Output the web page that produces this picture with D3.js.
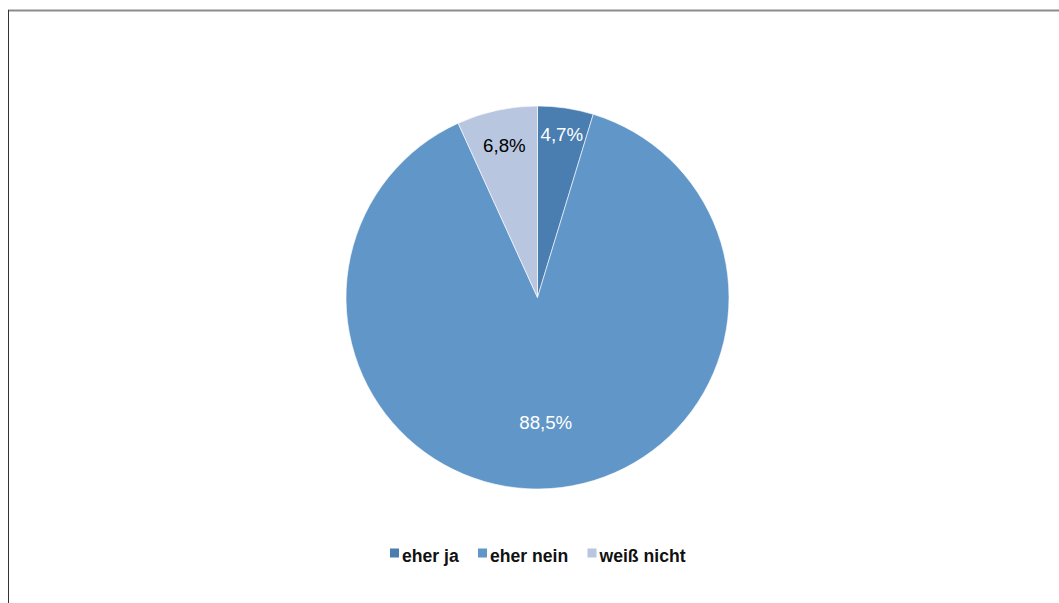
<!DOCTYPE html>
<html><head><meta charset="utf-8">
<script src="https://cdn.jsdelivr.net/npm/d3@7"></script>
<style>body{margin:0;background:#fff}svg{display:block}</style>
</head><body>
<svg id="c" width="1059" height="603"></svg>
<script>
const categories = ["eher ja", "eher nein", "weiß nicht"];
const values = [4.7, 88.5, 6.8];
const labels = ["4,7%", "88,5%", "6,8%"];
const colors = ["#4A7EB1", "#6096C8", "#B8C7DF"];
const labelColors = ["#ffffff", "#ffffff", "#000000"];
const labelRadiusFrac = [0.862, 0.653, 0.815];

const svg = d3.select("#c");
// frame
svg.append("line").attr("x1", 8).attr("x2", 1059).attr("y1", 10.5).attr("y2", 10.5)
  .attr("stroke", "#8c8c8c").attr("stroke-width", 2);
svg.append("line").attr("x1", 8.5).attr("x2", 8.5).attr("y1", 10).attr("y2", 603)
  .attr("stroke", "#333").attr("stroke-width", 1);

const cx = 537.5, cy = 297.5, r = 191.5;
const pie = d3.pie().sort(null).value(d => d)(values);
const arc = d3.arc().innerRadius(0).outerRadius(r);
const g = svg.append("g").attr("transform", `translate(${cx},${cy})`);
g.selectAll("path").data(pie).join("path")
  .attr("d", arc).attr("fill", (d, i) => colors[i])
  .attr("stroke", "#fff").attr("stroke-width", 0.6);
g.selectAll("text").data(pie).join("text")
  .attr("transform", (d, i) => {
    const a = (d.startAngle + d.endAngle) / 2, rr = r * labelRadiusFrac[i];
    return `translate(${Math.sin(a) * rr},${-Math.cos(a) * rr})`;
  })
  .attr("text-anchor", "middle").attr("dy", "0.35em")
  .attr("font-family", "Liberation Sans, Arial, sans-serif").attr("font-size", 18.7)
  .attr("fill", (d, i) => labelColors[i]).text((d, i) => labels[i]);

// legend
const lx = [390, 478, 587.5];
const lg = svg.append("g");
categories.forEach((c, i) => {
  lg.append("rect").attr("x", lx[i]).attr("y", 548.5).attr("width", 9).attr("height", 9).attr("fill", colors[i]);
  lg.append("text").attr("x", lx[i] + 12).attr("y", 561.5)
    .attr("font-family", "Liberation Sans, Arial, sans-serif").attr("font-weight", "bold")
    .attr("font-size", 17.6).attr("fill", "#111").text(c);
});
</script>
</body></html>
